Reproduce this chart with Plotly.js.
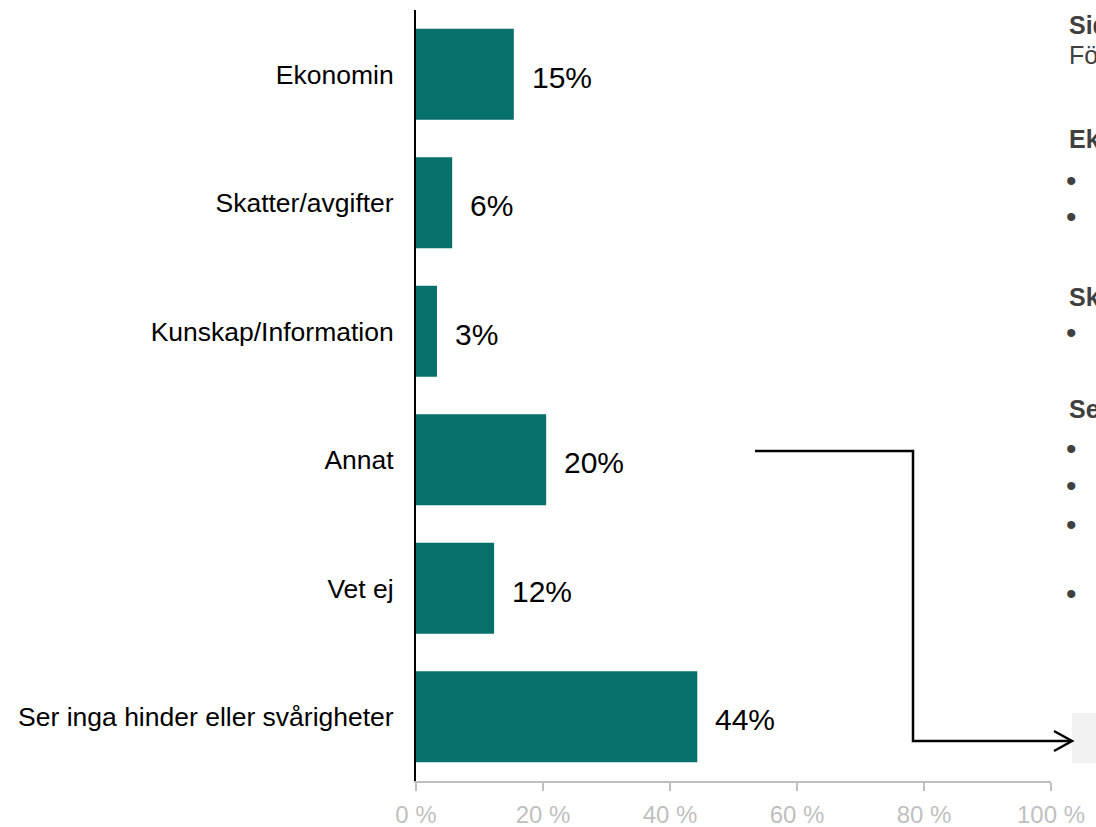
<!DOCTYPE html>
<html>
<head>
<meta charset="utf-8">
<script src="https://cdn.plot.ly/plotly-3.0.1.min.js"></script>
<style>html,body{margin:0;padding:0;background:#fff;overflow:hidden}#chart{width:1096px;height:827px}</style>
</head>
<body>
<div id="chart"></div>
<script>
// Data
const categories = ["Ekonomin", "Skatter/avgifter", "Kunskap/Information", "Annat", "Vet ej", "Ser inga hinder eller svårigheter"];
const values = [15.4, 5.7, 3.3, 20.5, 12.3, 44.3];
const valueLabels = ["15%", "6%", "3%", "20%", "12%", "44%"];
const tickVals = [0, 20, 40, 60, 80, 100];
const tickLabels = ["0 %", "20 %", "40 %", "60 %", "80 %", "100 %"];
const sideHeadings = ["Sidokommentarer", "Förklaring", "Ekonomin", "Skatter/avgifter", "Ser inga hinder eller svårigheter"];

const W = 1096, H = 827;
const M = {l: 416, r: 45, t: 10, b: 46};
const pw = W - M.l - M.r, ph = H - M.t - M.b;
const px = x => (x - M.l) / pw;
const py = y => (H - M.b - y) / ph;

const FONT = '"Liberation Sans", Arial, sans-serif';
const TEAL = '#08706B';

const trace = {
  type: 'bar',
  orientation: 'h',
  x: values,
  y: categories,
  marker: {color: TEAL},
  hoverinfo: 'none'
};

const annotations = categories.map((c, i) => ({
  x: values[i], y: c, xref: 'x', yref: 'y',
  text: valueLabels[i], showarrow: false,
  xanchor: 'left', yanchor: 'middle', xshift: 16, yshift: -3,
  font: {family: FONT, size: 30, color: '#000'}
}));

// Right-hand side text block (cut off by the page edge, as in the original)
const sideItems = [
  {t: '<b>' + sideHeadings[0] + '</b>', y: 25},
  {t: sideHeadings[1], y: 55},
  {t: '<b>' + sideHeadings[2] + '</b>', y: 139},
  {t: '•', y: 180, b: true},
  {t: '•', y: 216, b: true},
  {t: '<b>' + sideHeadings[3] + '</b>', y: 297},
  {t: '•', y: 333, b: true},
  {t: '<b>' + sideHeadings[4] + '</b>', y: 409},
  {t: '•', y: 448, b: true},
  {t: '•', y: 485, b: true},
  {t: '•', y: 524, b: true},
  {t: '•', y: 593, b: true}
];
sideItems.forEach(s => annotations.push({
  x: px(s.b ? 1064 : 1067), y: py(s.y), xref: 'paper', yref: 'paper',
  text: s.t, showarrow: false, xanchor: 'left', yanchor: 'middle',
  font: {family: FONT, size: s.b ? 30 : 25, color: '#404040'}
}));

const shapes = [
  {type: 'rect', xref: 'paper', yref: 'paper', x0: px(1072), x1: px(1110), y0: py(763), y1: py(713),
   fillcolor: '#f2f2f2', line: {width: 0}, layer: 'below'},
  {type: 'path', xref: 'paper', yref: 'paper',
   path: `M ${px(755)} ${py(451)} L ${px(913)} ${py(451)} L ${px(913)} ${py(741)} L ${px(1071)} ${py(741)}`,
   line: {color: '#000', width: 2.5}},
  {type: 'path', xref: 'paper', yref: 'paper',
   path: `M ${px(1054)} ${py(731)} L ${px(1072)} ${py(741)} L ${px(1054)} ${py(751)}`,
   line: {color: '#000', width: 2.5}}
];

const layout = {
  width: W, height: H,
  margin: M,
  paper_bgcolor: '#fff', plot_bgcolor: '#fff',
  showlegend: false,
  bargap: 0.29,
  font: {family: FONT},
  xaxis: {
    range: [0, 100], fixedrange: true,
    tickvals: tickVals, ticktext: tickLabels,
    showgrid: false, zeroline: false,
    showline: true, linecolor: '#bfbfbf', linewidth: 2,
    ticks: 'outside', ticklen: 8, tickcolor: '#bfbfbf', tickwidth: 2,
    ticklabelstandoff: 3,
    tickfont: {family: FONT, size: 24, color: '#bfbfbf'}
  },
  yaxis: {
    type: 'category', autorange: 'reversed', fixedrange: true,
    categoryorder: 'array', categoryarray: categories,
    showgrid: false, zeroline: false,
    showline: true, linecolor: '#000', linewidth: 2,
    ticks: 'outside', ticklen: 15, tickcolor: 'rgba(0,0,0,0)',
    tickfont: {family: FONT, size: 26.5, color: '#000'}
  },
  annotations: annotations,
  shapes: shapes
};

Plotly.newPlot('chart', [trace], layout, {displayModeBar: false, staticPlot: true});
</script>
</body>
</html>
